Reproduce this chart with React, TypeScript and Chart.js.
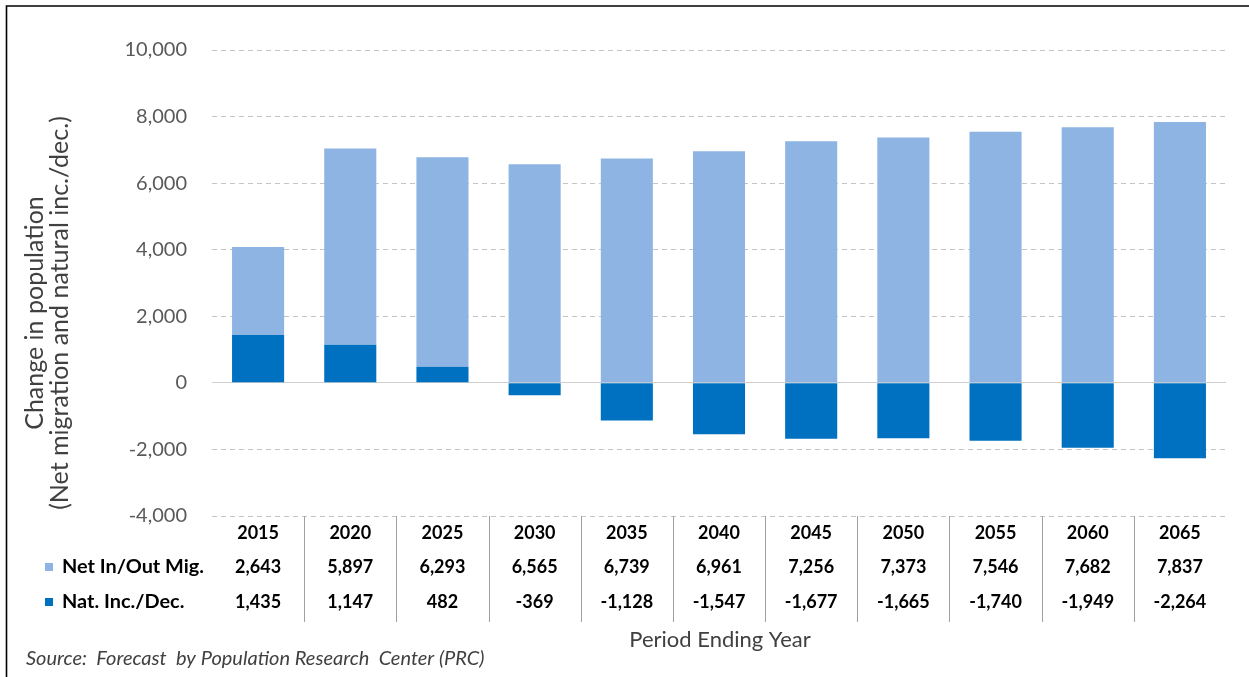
import React, { useEffect, useRef } from "react";
import { Chart, registerables } from "chart.js";

Chart.register(...registerables);

const years = ["2015", "2020", "2025", "2030", "2035", "2040", "2045", "2050", "2055", "2060", "2065"];
const netMigration = [2643, 5897, 6293, 6565, 6739, 6961, 7256, 7373, 7546, 7682, 7837];
const naturalChange = [1435, 1147, 482, -369, -1128, -1547, -1677, -1665, -1740, -1949, -2264];
const migLabel = "Net In/Out Mig.";
const natLabel = "Nat. Inc./Dec.";
const yTitle = ["Change in population", "(Net migration and natural inc./dec.)"];
const xTitle = "Period Ending Year";
const sourceText = "Source:  Forecast  by Population Research  Center (PRC)";

const LIGHT = "#8DB4E2";
const DARK = "#0070C0";
const W = 1249;
const H = 677;
const FONT = "Lato, 'Open Sans', sans-serif";

const fmt = (v: number) => v.toLocaleString("en-US");

const tablePlugin = {
  id: "tablePlugin",
  beforeDraw(chart: any) {
    const ctx = chart.ctx;
    ctx.save();
    ctx.fillStyle = "#ffffff";
    ctx.fillRect(0, 0, chart.width, chart.height);
    ctx.restore();
  },
  afterDraw(chart: any) {
    const ctx = chart.ctx;
    const xs = chart.scales.x;
    const area = chart.chartArea;
    ctx.save();
    // frame
    ctx.strokeStyle = "#000000";
    ctx.lineWidth = 1.6;
    ctx.beginPath();
    ctx.moveTo(6.5, H);
    ctx.lineTo(6.5, 6);
    ctx.lineTo(W, 6);
    ctx.stroke();

    // y title
    ctx.save();
    ctx.translate(35, 313);
    ctx.rotate(-Math.PI / 2);
    ctx.fillStyle = "#404040";
    ctx.font = `25px ${FONT}`;
    ctx.textAlign = "center";
    ctx.textBaseline = "middle";
    ctx.fillText(yTitle[0], 0, 0);
    ctx.fillText(yTitle[1], 0, 25);
    ctx.restore();

    // table
    const top = area.bottom;
    const rowY = [top + 17, top + 51, top + 86];
    ctx.fillStyle = "#000000";
    ctx.font = `bold 18px ${FONT}`;
    ctx.textAlign = "center";
    ctx.textBaseline = "middle";
    const px: number[] = years.map((_, i) => xs.getPixelForValue(i));
    years.forEach((y, i) => {
      ctx.fillText(y, px[i], rowY[0]);
      ctx.fillText(fmt(netMigration[i]), px[i], rowY[1]);
      ctx.fillText(fmt(naturalChange[i]), px[i], rowY[2]);
    });
    ctx.strokeStyle = "#a0a0a0";
    ctx.lineWidth = 1;
    for (let i = 0; i < px.length - 1; i++) {
      const x = Math.round((px[i] + px[i + 1]) / 2) + 0.5;
      ctx.beginPath();
      ctx.moveTo(x, top);
      ctx.lineTo(x, top + 106);
      ctx.stroke();
    }
    // row labels
    ctx.fillStyle = LIGHT;
    ctx.fillRect(45, rowY[1] - 4, 8, 8);
    ctx.fillStyle = DARK;
    ctx.fillRect(45, rowY[2] - 4, 8, 8);
    ctx.fillStyle = "#000000";
    ctx.textAlign = "left";
    const sx = 142 / ctx.measureText(migLabel).width;
    [migLabel, natLabel].forEach((t, k) => {
      ctx.save();
      ctx.translate(62, rowY[k + 1]);
      ctx.scale(sx, 1);
      ctx.fillText(t, 0, 0);
      ctx.restore();
    });

    // x title
    ctx.font = `22px ${FONT}`;
    ctx.fillStyle = "#404040";
    ctx.textAlign = "center";
    ctx.fillText(xTitle, 720, 640);

    // source
    ctx.font = `italic 20px ${FONT}`;
    ctx.fillStyle = "#404040";
    ctx.textAlign = "left";
    ctx.fillText(sourceText, 26, 659);
    ctx.restore();
  },
};

export default function App() {
  const ref = useRef<HTMLCanvasElement | null>(null);
  useEffect(() => {
    if (!ref.current) return;
    const chart = new Chart(ref.current, {
      type: "bar",
      data: {
        labels: years,
        datasets: [
          { label: natLabel, data: naturalChange, backgroundColor: DARK, stack: "s" },
          { label: migLabel, data: netMigration, backgroundColor: LIGHT, stack: "s" },
        ],
      },
      options: {
        responsive: false,
        animation: false,
        devicePixelRatio: 1,
        layout: { padding: { left: 0, right: 23, top: 50, bottom: 161 } },
        plugins: { legend: { display: false }, tooltip: { enabled: false }, title: { display: false } },
        datasets: { bar: { categoryPercentage: 1, barPercentage: 0.565 } },
        scales: {
          x: { display: false, stacked: true },
          y: {
            stacked: true,
            min: -4000,
            max: 10000,
            afterFit: (s: any) => {
              s.width = 212;
            },
            ticks: {
              stepSize: 2000,
              padding: 25,
              color: "#595959",
              font: { family: FONT, size: 20 },
              callback: (v: any) => fmt(Number(v)),
            },
            grid: {
              drawTicks: false,
              color: (c: any) => (c.tick && c.tick.value === 0 ? "#cfcfcf" : "#c4c4c4"),
              lineWidth: 1,
            },
            border: {
              display: false,
              dash: (c: any) => (c.tick && c.tick.value === 0 ? [] : [5, 4]),
            } as any,
          },
        },
      } as any,
      plugins: [tablePlugin],
    });
    return () => chart.destroy();
  }, []);
  return (
    <div style={{ position: "absolute", left: 0, top: 0, width: W, height: H, background: "#fff" }}>
      <canvas ref={ref} width={W} height={H} style={{ display: "block", width: W, height: H }} />
    </div>
  );
}
